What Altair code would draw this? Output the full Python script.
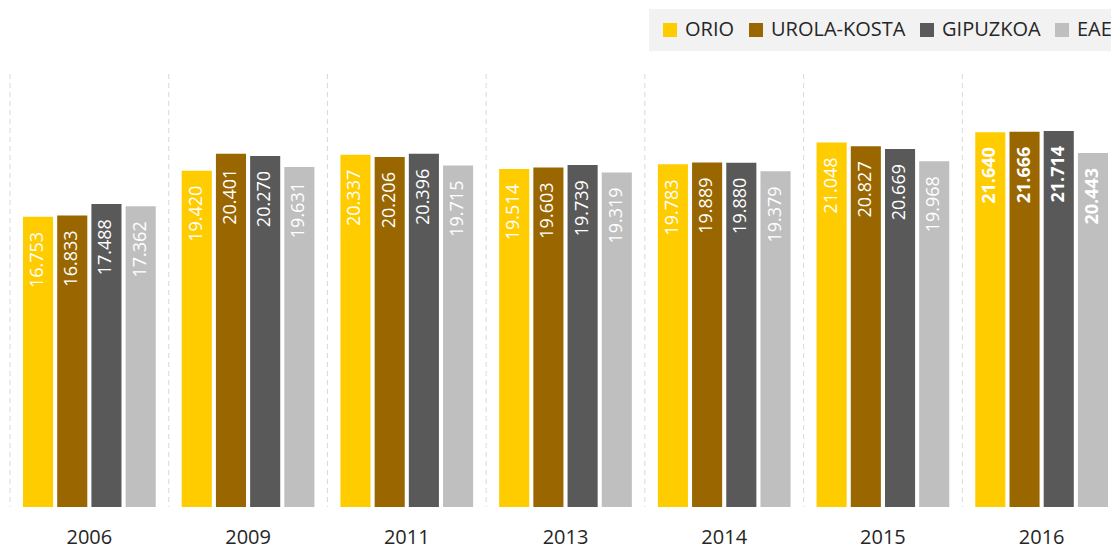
import altair as alt
import pandas as pd

years = ["2006", "2009", "2011", "2013", "2014", "2015", "2016"]
series = ["ORIO", "UROLA-KOSTA", "GIPUZKOA", "EAE"]
orio = [16753, 19420, 20337, 19514, 19783, 21048, 21640]
urola = [16833, 20401, 20206, 19603, 19889, 20827, 21666]
gipuzkoa = [17488, 20270, 20396, 19739, 19880, 20669, 21714]
eae = [17362, 19631, 19715, 19319, 19379, 19968, 20443]
colors = ["#FFCC00", "#996600", "#595959", "#BFBFBF"]

rows = []
for s, vals in zip(series, [orio, urola, gipuzkoa, eae]):
    for yr, v in zip(years, vals):
        rows.append({"year": yr, "series": s, "value": v,
                     "label": f"{v:,}".replace(",", "."),
                     "bold": yr == "2016"})
df = pd.DataFrame(rows)

xaxis = alt.Axis(title=None, domain=False, ticks=False, tickSize=0,
                 labelFont="Open Sans", labelFontSize=20,
                 labelColor="#262626", labelPadding=36,
                 labelBaseline="alphabetic", labelAngle=0, grid=False)
xscale = alt.Scale(paddingInner=0, paddingOuter=0, range=[0, 1111])

base = alt.Chart(df)
x = alt.X("year:N", sort=years, scale=xscale, axis=xaxis)
xo = alt.XOffset("series:N", sort=series,
                 scale=alt.Scale(paddingInner=0.12, paddingOuter=0.38))
y = alt.Y("value:Q", scale=alt.Scale(domain=[0, 25000]), axis=None)

grid = alt.Chart(pd.DataFrame({"year": years})).mark_rule(
    color="#d9d9d9", strokeDash=[5, 4], strokeWidth=1
).encode(x=alt.X("year:N", sort=years, bandPosition=0, scale=xscale, axis=xaxis))

bars = base.mark_bar().encode(
    x=x, xOffset=xo, y=y,
    color=alt.Color("series:N", sort=series,
                    scale=alt.Scale(domain=series, range=colors),
                    legend=alt.Legend(title=None, orient="none", legendX=639, legendY=-65,
                                      direction="horizontal", symbolType="square",
                                      symbolSize=196, symbolStrokeWidth=0,
                                      labelFont="Open Sans", labelFontSize=20,
                                      labelColor="#262626", labelOffset=5,
                                      columnPadding=11, padding=11,
                                      fillColor="#f2f2f2")),
)

txt = dict(angle=270, align="right", baseline="middle", font="Open Sans",
           fontSize=18, color="white", yOffset=15)
labels = base.mark_text(**txt).encode(
    x=x, xOffset=xo, y=y, text="label:N").transform_filter("!datum.bold")
bold_labels = base.mark_text(fontWeight="bold", **txt).encode(
    x=x, xOffset=xo, y=y, text="label:N").transform_filter("datum.bold")

chart = alt.layer(grid, bars, labels, bold_labels).properties(
    width=1101, height=433,
    autosize=alt.AutoSizeParams(type="none"),
    padding={"left": 2, "top": 66, "right": 0, "bottom": 44},
).configure_view(stroke=None)

chart.save("out.html", embed_options={"renderer": "svg", "actions": False})
